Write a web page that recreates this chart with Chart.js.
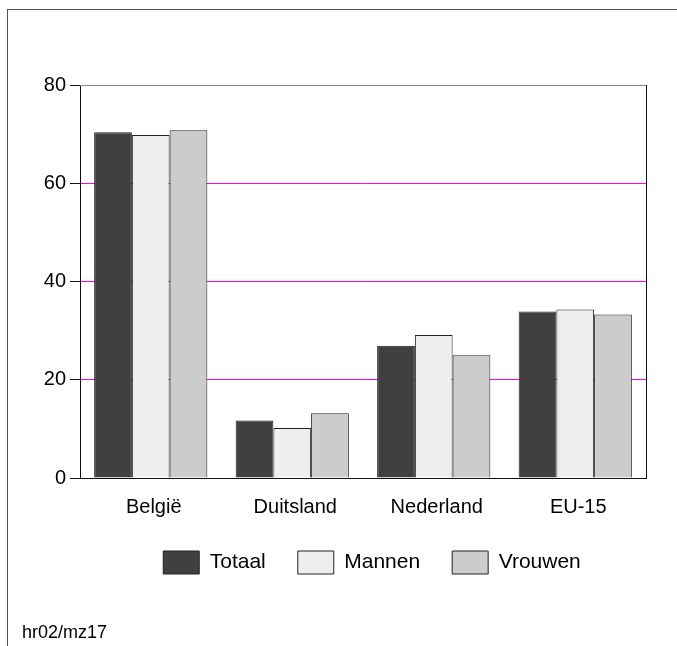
<!DOCTYPE html>
<html>
<head>
<meta charset="utf-8">
<script src="https://cdn.jsdelivr.net/npm/chart.js@4.4.1/dist/chart.umd.min.js"></script>
<style>
  html, body { margin: 0; padding: 0; background: #fff; }
  body { width: 677px; height: 646px; position: relative; overflow: hidden; font-family: 'Liberation Sans', Arial, sans-serif; }
  #frame { position: absolute; left: 7px; top: 9px; width: 700px; height: 700px; border-top: 1px solid #555; border-left: 1px solid #555; }
  #wrap { position: absolute; left: 0; top: 0; width: 677px; height: 646px; }
  #footer { position: absolute; left: 22px; top: 623px; font-size: 18px; line-height: 18px; color: #000; }
</style>
</head>
<body>
<div id="frame"></div>
<div id="wrap"><canvas id="c" width="677" height="646"></canvas></div>
<div id="footer">hr02/mz17</div>
<script>
const categories = ['België', 'Duitsland', 'Nederland', 'EU-15'];
const seriesNames = ['Totaal', 'Mannen', 'Vrouwen'];
const totaal = [70.4, 11.7, 26.9, 33.9];
const mannen = [69.8, 10.2, 29.1, 34.3];
const vrouwen = [70.8, 13.2, 25.0, 33.3];

const FONT = "'Liberation Sans', Arial, sans-serif";

const borderPlugin = {
  id: 'frameLines',
  afterLayout(chart) {
    if (chart.legend) { chart.legend.left += 9; chart.legend.right += 9; }
  },
  afterDraw(chart) {
    const a = chart.chartArea;
    const ctx = chart.ctx;
    ctx.save();
    ctx.lineWidth = 1;
    ctx.strokeStyle = '#888888';
    ctx.beginPath();
    ctx.moveTo(a.left, Math.round(a.top) + 0.5);
    ctx.lineTo(a.right, Math.round(a.top) + 0.5);
    ctx.stroke();
    ctx.strokeStyle = '#111';
    ctx.beginPath();
    ctx.moveTo(Math.round(a.right) + 0.5, a.top);
    ctx.lineTo(Math.round(a.right) + 0.5, a.bottom);
    ctx.stroke();
    ctx.restore();
  }
};

new Chart(document.getElementById('c'), {
  type: 'bar',
  data: {
    labels: categories,
    datasets: [
      { label: seriesNames[0], data: totaal, backgroundColor: '#404040', borderColor: '#222', borderWidth: 1 },
      { label: seriesNames[1], data: mannen, backgroundColor: '#eeeeee', borderColor: '#222', borderWidth: 1 },
      { label: seriesNames[2], data: vrouwen, backgroundColor: '#cccccc', borderColor: '#222', borderWidth: 1 }
    ]
  },
  options: {
    responsive: false,
    animation: false,
    devicePixelRatio: 1,
    layout: { padding: { left: 0, right: 31, top: 85, bottom: 62 } },
    datasets: { bar: { categoryPercentage: 0.8, barPercentage: 1.0 } },
    plugins: {
      tooltip: { enabled: false },
      legend: {
        position: 'bottom',
        fullSize: false,
        labels: {
          boxWidth: 36,
          boxHeight: 23,
          padding: 32,
          color: '#000',
          font: { family: FONT, size: 21 }
        }
      }
    },
    scales: {
      x: {
        grid: { color: 'rgba(0,0,0,0)', drawTicks: false },
        border: { display: true, color: '#111', width: 1, z: 1 },
        ticks: { color: '#000', padding: 17, labelOffset: 3, font: { family: FONT, size: 20 }, maxRotation: 0 },
        afterFit(scale) { scale.height = 41; }
      },
      y: {
        min: 0,
        max: 80,
        ticks: { stepSize: 20, color: '#000', padding: 4, font: { family: FONT, size: 20 } },
        grid: {
          color: '#ff00ff',
          tickColor: '#111',
          tickLength: 10,
          lineWidth: 1
        },
        border: { display: true, color: '#111', width: 1 },
        afterFit(scale) { scale.width = 80; }
      }
    }
  },
  plugins: [borderPlugin]
});
</script>
</body>
</html>
